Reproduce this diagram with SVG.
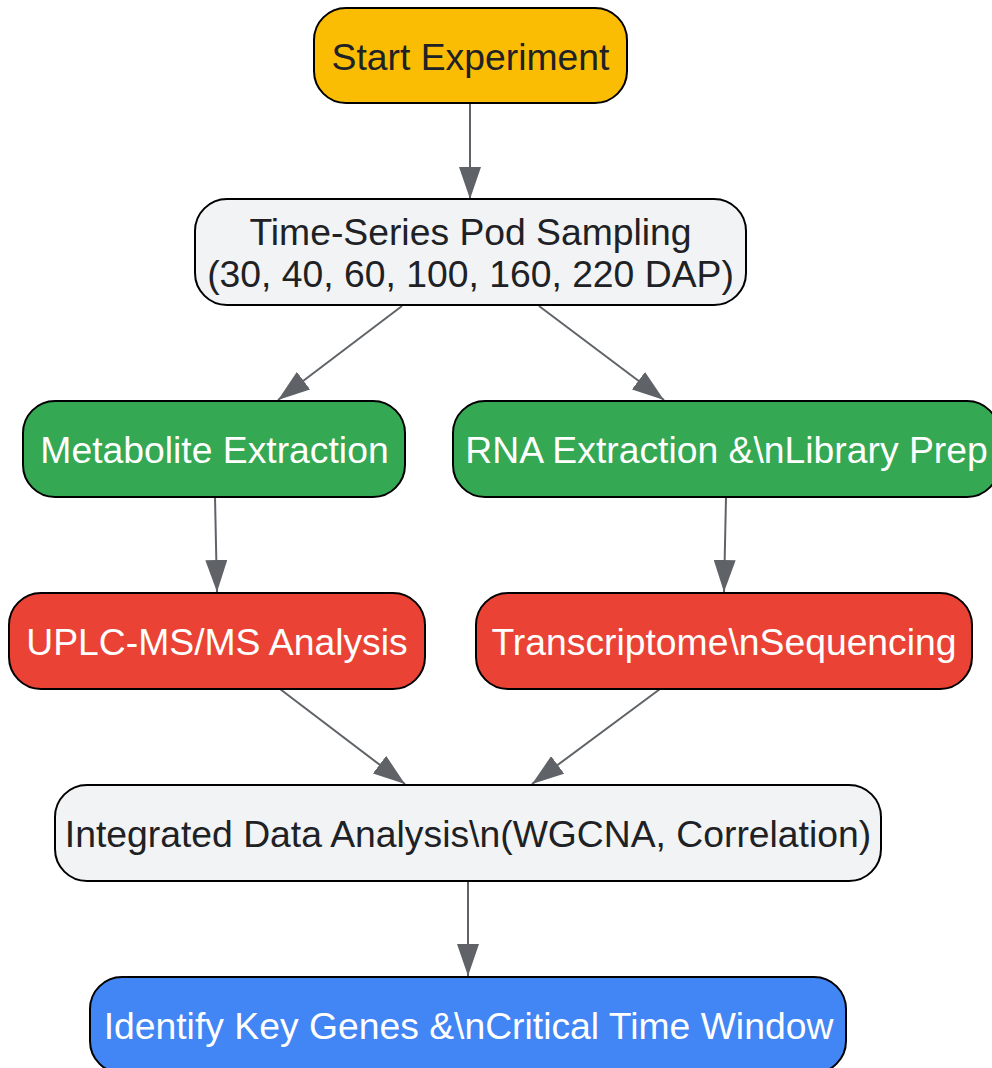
<svg xmlns="http://www.w3.org/2000/svg" width="992" height="1068" viewBox="0 0 992 1068">
<style>
.node{stroke:#000;stroke-width:2}
.t{font-family:"Liberation Sans",Arial,sans-serif;font-size:37.3px;text-anchor:middle}
.dark{fill:#202124}
.light{fill:#ffffff}
.edge{stroke:#5F6368;stroke-width:2;fill:none}
</style>
<defs>
<marker id="arr" viewBox="0 0 32 22" refX="32" refY="11" markerWidth="32" markerHeight="22" markerUnits="userSpaceOnUse" orient="auto">
<path d="M0,0 L32,11 L0,22 Z" fill="#5F6368"/>
</marker>
</defs>
<g id="connectors">
<line class="edge" x1="470" y1="103" x2="470" y2="199" marker-end="url(#arr)"/>
<line class="edge" x1="402" y1="306" x2="278" y2="400" marker-end="url(#arr)"/>
<line class="edge" x1="539" y1="306" x2="664" y2="400" marker-end="url(#arr)"/>
<line class="edge" x1="215" y1="497" x2="217" y2="592" marker-end="url(#arr)"/>
<line class="edge" x1="726" y1="497" x2="724" y2="592" marker-end="url(#arr)"/>
<line class="edge" x1="280" y1="689" x2="405" y2="784" marker-end="url(#arr)"/>
<line class="edge" x1="660" y1="689" x2="532" y2="784" marker-end="url(#arr)"/>
<line class="edge" x1="468" y1="881" x2="468" y2="976" marker-end="url(#arr)"/>
</g>
<g id="start">
<rect class="node" x="314" y="8" width="313" height="95" rx="32" fill="#FBBC04"/>
<text class="t dark" x="470.5" y="70">Start Experiment</text>
</g>
<g id="sampling">
<rect class="node" x="195" y="199" width="551" height="106" rx="32" fill="#F1F3F4"/>
<text class="t dark" x="470.5" y="245">Time-Series Pod Sampling</text>
<text class="t dark" x="470.5" y="287">(30, 40, 60, 100, 160, 220 DAP)</text>
</g>
<g id="metabolite">
<rect class="node" x="23" y="401" width="382" height="96" rx="32" fill="#34A853"/>
<text class="t light" x="214.5" y="463">Metabolite Extraction</text>
</g>
<g id="rna">
<rect class="node" x="453" y="401" width="546" height="96" rx="32" fill="#34A853"/>
<text class="t light" x="726.5" y="463">RNA Extraction &amp;\nLibrary Prep</text>
</g>
<g id="uplc">
<rect class="node" x="9" y="593" width="416" height="96" rx="32" fill="#EA4335"/>
<text class="t light" x="217" y="655">UPLC-MS/MS Analysis</text>
</g>
<g id="transcriptome">
<rect class="node" x="476" y="593" width="496" height="96" rx="32" fill="#EA4335"/>
<text class="t light" x="724" y="655">Transcriptome\nSequencing</text>
</g>
<g id="integrated">
<rect class="node" x="55" y="785" width="826" height="96" rx="32" fill="#F1F3F4"/>
<text class="t dark" x="468" y="847">Integrated Data Analysis\n(WGCNA, Correlation)</text>
</g>
<g id="identify">
<rect class="node" x="90" y="977" width="756" height="96" rx="32" fill="#4285F4"/>
<text class="t light" x="468.5" y="1039">Identify Key Genes &amp;\nCritical Time Window</text>
</g>
</svg>
